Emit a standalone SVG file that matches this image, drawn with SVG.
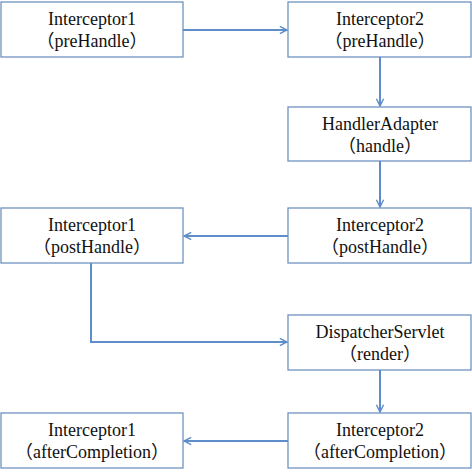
<svg xmlns="http://www.w3.org/2000/svg" width="472" height="475" viewBox="0 0 472 475">
<defs>
<marker id="ah" viewBox="0 0 10 10" refX="9" refY="5" markerWidth="9" markerHeight="10" markerUnits="userSpaceOnUse" orient="auto">
<path d="M1,1 L9,5 L1,9" fill="none" stroke="#5f8dc9" stroke-width="1.6"/>
</marker>
</defs>
<rect width="472" height="475" fill="#ffffff"/>
<g fill="#ffffff" stroke="#6f92c0" stroke-width="1.3">
<rect id="b1" x="1" y="2" width="182" height="55"/>
<rect id="b2" x="288" y="2" width="183" height="55"/>
<rect id="b3" x="288" y="107" width="183" height="54"/>
<rect id="b4" x="288" y="208" width="183" height="55"/>
<rect id="b5" x="1" y="208" width="182" height="55"/>
<rect id="b6" x="288" y="315" width="183" height="55"/>
<rect id="b7" x="288" y="413" width="183" height="55"/>
<rect id="b8" x="1" y="413" width="182" height="55"/>
</g>
<g font-family="Times New Roman, Liberation Serif, Noto Sans CJK SC, serif" font-size="18" fill="#111111" text-anchor="middle">
<g id="n1"><text x="92" y="25">Interceptor1</text><text x="92" y="47">（preHandle）</text></g>
<g id="n2"><text x="380" y="25">Interceptor2</text><text x="380" y="47">（preHandle）</text></g>
<g id="n3"><text x="380" y="130">HandlerAdapter</text><text x="380" y="152">（handle）</text></g>
<g id="n4"><text x="380" y="231">Interceptor2</text><text x="380" y="253">（postHandle）</text></g>
<g id="n5"><text x="92" y="231">Interceptor1</text><text x="92" y="253">（postHandle）</text></g>
<g id="n6"><text x="380" y="338">DispatcherServlet</text><text x="380" y="360">（render）</text></g>
<g id="n7"><text x="380" y="436">Interceptor2</text><text x="380" y="458">（afterCompletion）</text></g>
<g id="n8"><text x="92" y="436">Interceptor1</text><text x="92" y="458">（afterCompletion）</text></g>
</g>
<g id="connectors" fill="none" stroke="#5f8dc9" stroke-width="2" marker-end="url(#ah)">
<path d="M183,30 H287"/>
<path d="M380,57 V106"/>
<path d="M380,161 V207"/>
<path d="M288,236 H184"/>
<path d="M91,263 V342 H287"/>
<path d="M380,370 V412"/>
<path d="M288,441 H184"/>
</g>
</svg>
